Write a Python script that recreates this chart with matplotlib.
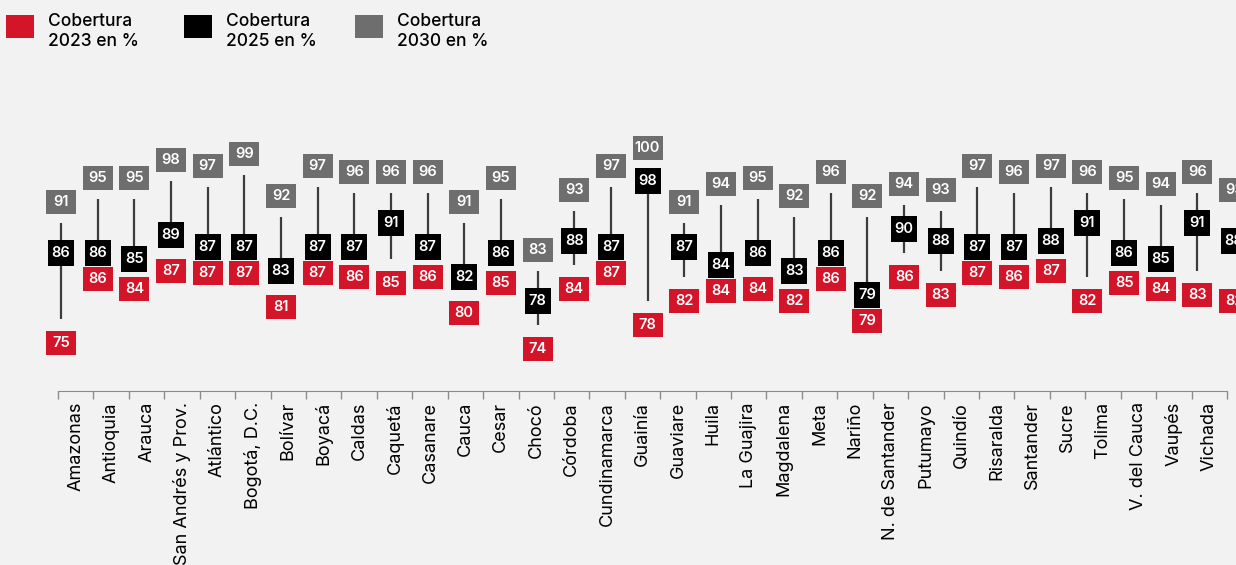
import numpy as np
import matplotlib.pyplot as plt
from matplotlib.patches import Rectangle

departamentos = ['Amazonas', 'Antioquia', 'Arauca', 'San Andrés y Prov.', 'Atlántico',
                 'Bogotá, D.C.', 'Bolívar', 'Boyacá', 'Caldas', 'Caquetá', 'Casanare',
                 'Cauca', 'Cesar', 'Chocó', 'Córdoba', 'Cundinamarca', 'Guainía',
                 'Guaviare', 'Huila', 'La Guajira', 'Magdalena', 'Meta', 'Nariño',
                 'N. de Santander', 'Putumayo', 'Quindío', 'Risaralda', 'Santander',
                 'Sucre', 'Tolima', 'V. del Cauca', 'Vaupés', 'Vichada']
cob_2023 = [75, 86, 84, 87, 87, 87, 81, 87, 86, 85, 86, 80, 85, 74, 84, 87, 78,
            82, 84, 84, 82, 86, 79, 86, 83, 87, 86, 87, 82, 85, 84, 83, 82]
cob_2025 = [86, 86, 85, 89, 87, 87, 83, 87, 87, 91, 87, 82, 86, 78, 88, 87, 98,
            87, 84, 86, 83, 86, 79, 90, 88, 87, 87, 88, 91, 86, 85, 91, 88]
cob_2030 = [91, 95, 95, 98, 97, 99, 92, 97, 96, 96, 96, 91, 95, 83, 93, 97, 100,
            91, 94, 95, 92, 96, 92, 94, 93, 97, 96, 97, 96, 95, 94, 96, 93]
series_names = ['Cobertura\n2023 en %', 'Cobertura\n2025 en %', 'Cobertura\n2030 en %']

ROJO = '#d41428'
NEGRO = '#000000'
GRIS = '#6e6e6e'
FONDO = '#f2f2f2'
plt.rcParams['font.family'] = ['Inter', 'DejaVu Sans']

W, H = 1236, 565
fig = plt.figure(figsize=(W / 100, H / 100), dpi=100, facecolor=FONDO)
ax = fig.add_axes([58 / W, 174 / H, 1169 / W, 291 / H])
ax.set_facecolor('none')
ax.set_ylim(63.08, 111.58)
ax.set_xlim(-0.5, len(departamentos) - 0.5)

# pixels per unit on the y axis, used to offset the label boxes
ppu = 291 / (111.58 - 63.08)

# category axis
n = len(departamentos)
ax.set_xticks(np.arange(-0.5, n), labels=[])
ax.set_xticks(np.arange(n), labels=departamentos, minor=True)
ax.tick_params(which='major', length=6, width=1, color='#8c8c8c')
ax.tick_params(which='minor', length=0, pad=8, labelrotation=90, labelsize=13)
ax.set_yticks([])
for s in ['left', 'right', 'top']:
    ax.spines[s].set_visible(False)
ax.spines['bottom'].set_color('#8c8c8c')

# marks
mk = ax.twiny()
mk.set_xlim(-0.082, 31.807)
mk.axis('off')

x = np.arange(n)
r = np.array(cob_2023, dtype=float)
b = np.array(cob_2025, dtype=float)
g = np.array(cob_2030, dtype=float)

gy = g + 21 / ppu
ry = r - 24 / ppu
# keep red box under black box, gray box over black box
ry = np.minimum(ry, b - 25.5 / ppu)
gy = np.maximum(gy, b + 25.5 / ppu)

mk.vlines(x, r, g, color='#3c3c3c', lw=1.6, zorder=1)

rect = [(-15, -12), (15, -12), (15, 12), (-15, 12), (-15, -12)]
mk.plot(x, gy, ls='none', marker=rect, ms=21.6, mew=0, color=GRIS, clip_on=False, zorder=2)
mk.plot(x, ry, ls='none', marker=rect, ms=21.6, mew=0, color=ROJO, clip_on=False, zorder=2)
mk.plot(x, b, ls='none', marker='s', ms=19.4, mew=0, color=NEGRO, clip_on=False, zorder=3)

for xi, gv, gp, bv, rv, rp in zip(x, g, gy, b, r, ry):
    for val, pos in [(gv, gp), (bv, bv), (rv, rp)]:
        mk.text(xi, pos, f'{val:.0f}', ha='center', va='center', color='white',
                fontsize=10.5, fontweight='semibold', zorder=4, clip_on=False)

# legend
for i, (name, col) in enumerate(zip(series_names, [ROJO, NEGRO, GRIS])):
    x0 = [6, 184, 355][i]
    fig.add_artist(Rectangle((x0 / W, 1 - 38 / H), 28 / W, 23 / H,
                             transform=fig.transFigure, color=col, lw=0))
    fig.text((x0 + 42) / W, 1 - 31.5 / H, name, ha='left', va='center',
             fontsize=12.5, fontweight='medium', linespacing=1.3)

fig.savefig('out.png', dpi=100, facecolor=FONDO)
